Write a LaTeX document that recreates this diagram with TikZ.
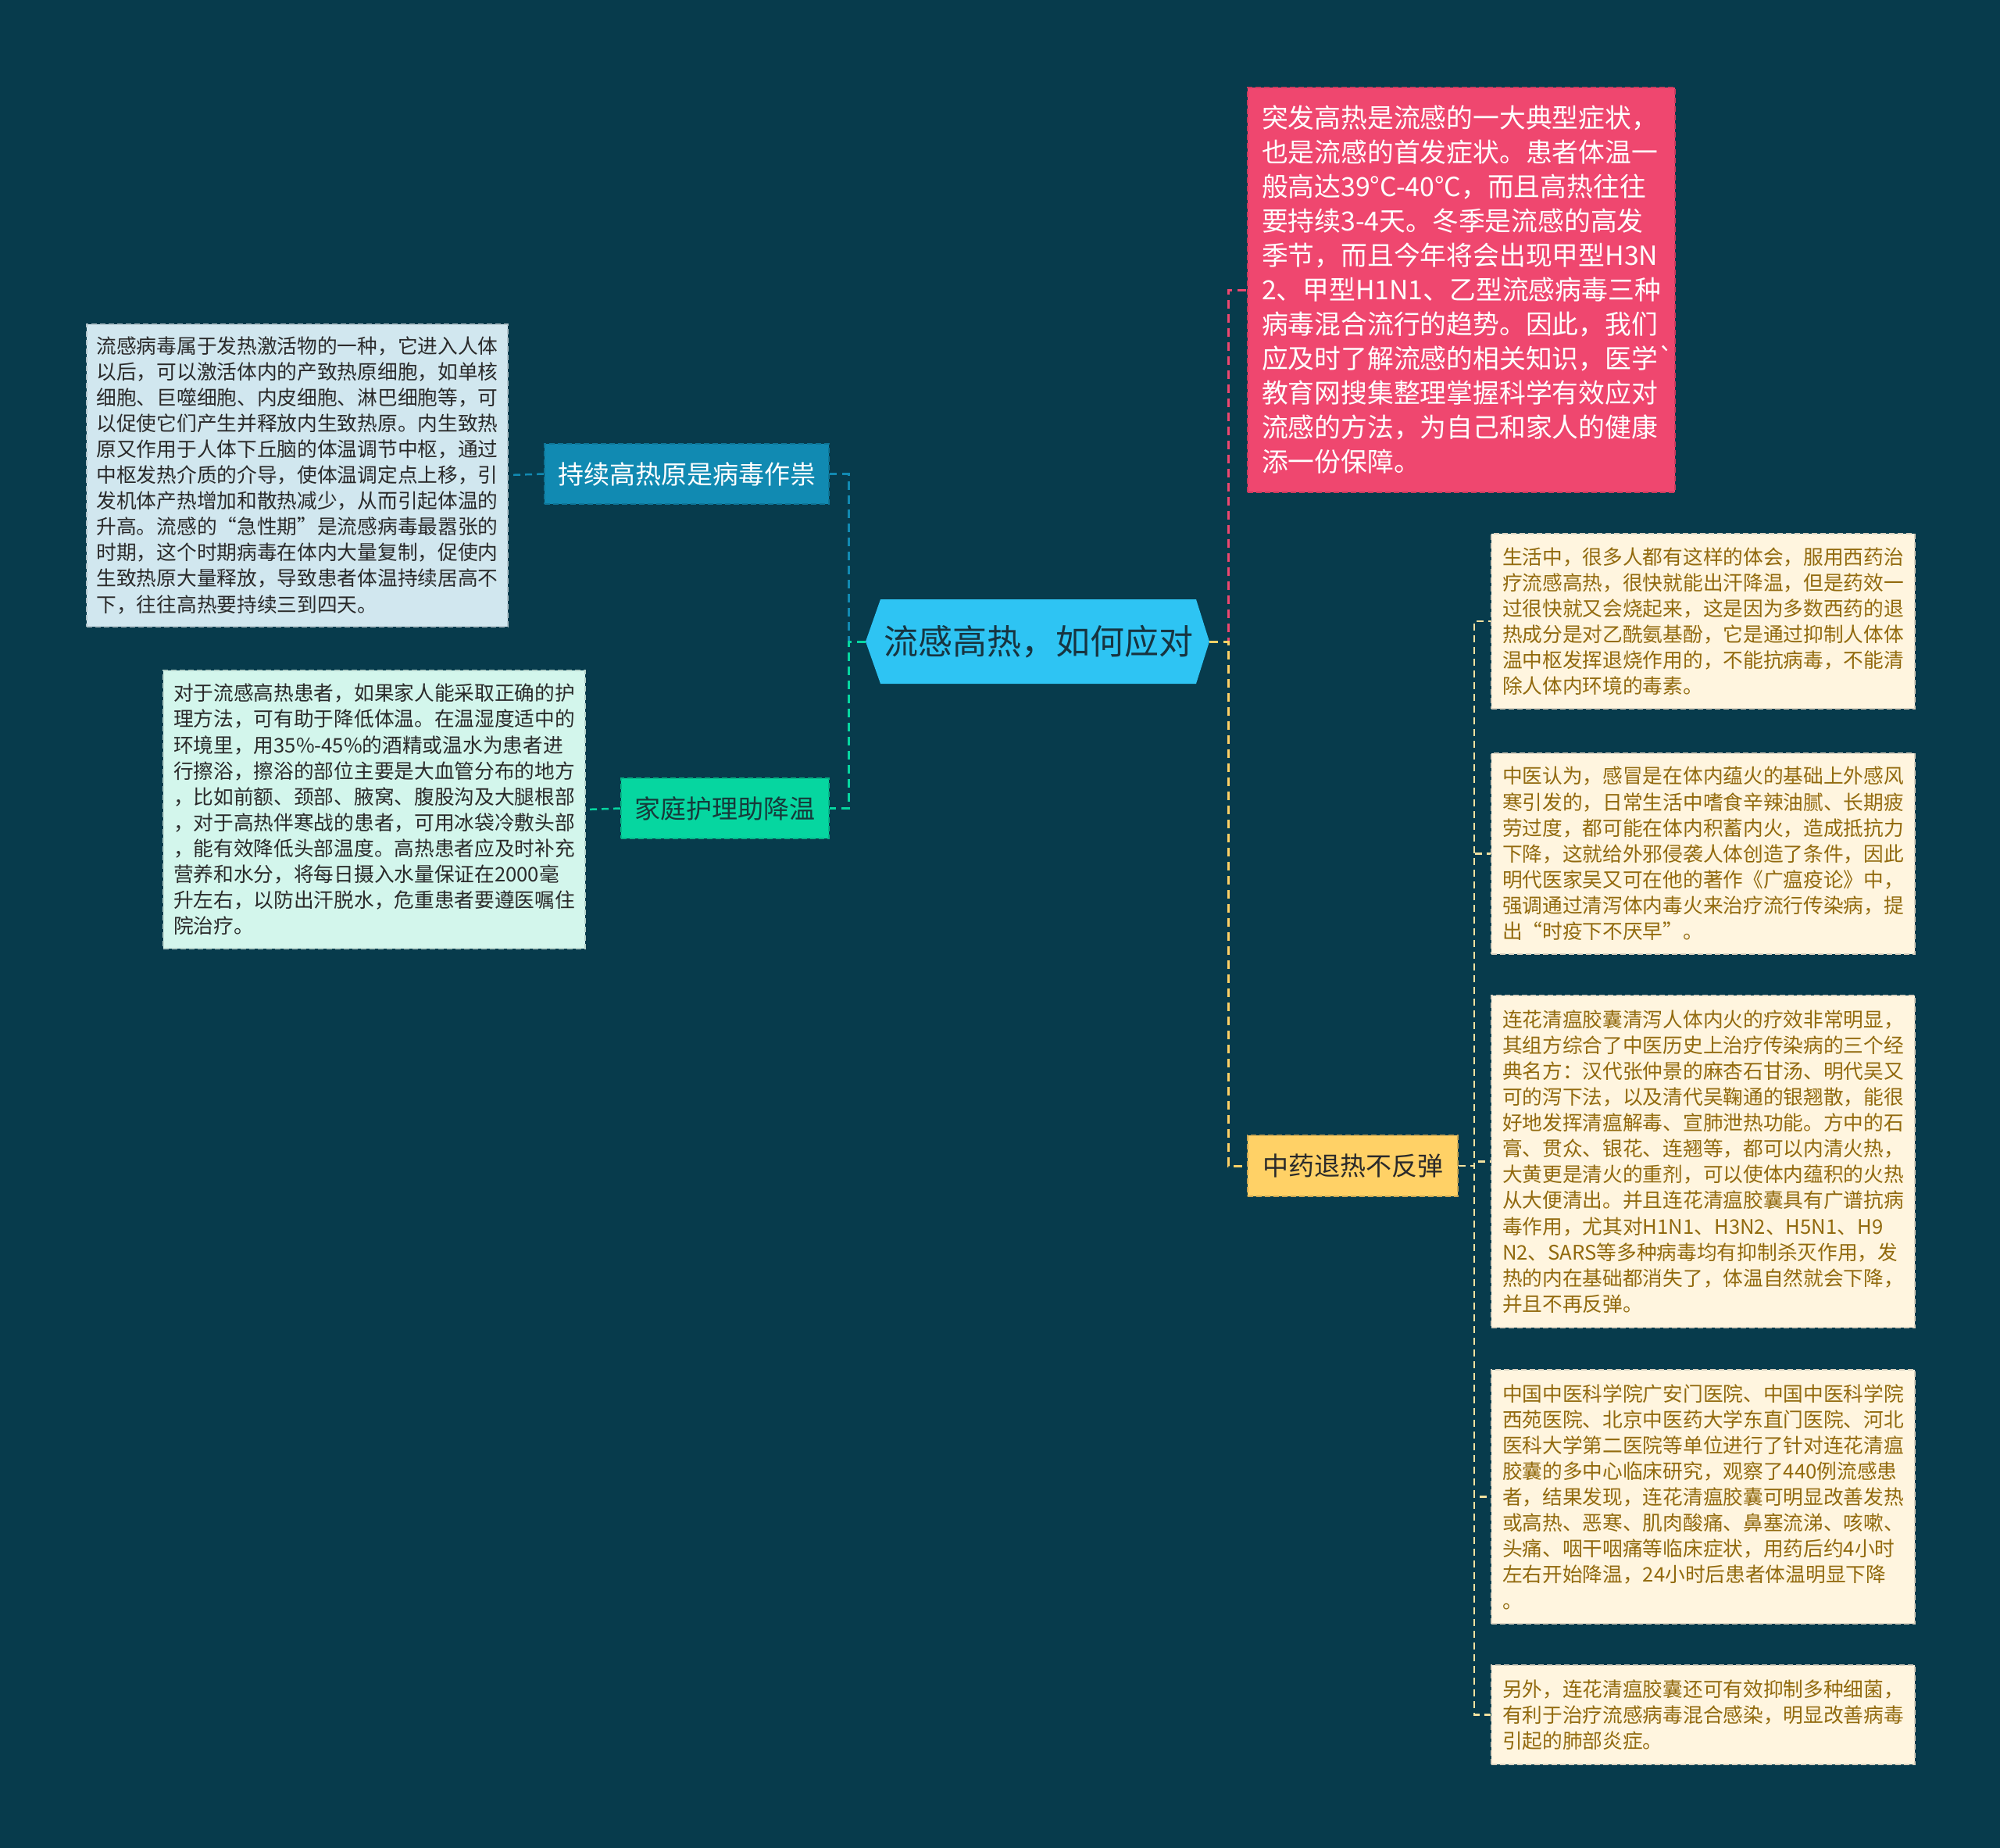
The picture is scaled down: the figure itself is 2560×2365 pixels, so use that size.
\documentclass[tikz,border=0pt]{standalone}
\usepackage{fontspec}
\newfontfamily\cjk{Noto Sans CJK SC}
\definecolor{bgC}{HTML}{073B4C}
\definecolor{blueC}{HTML}{118AB2}
\definecolor{greenC}{HTML}{06D6A0}
\definecolor{pinkC}{HTML}{EF476F}
\definecolor{yellowC}{HTML}{FFD166}
\definecolor{centerC}{HTML}{2EC4F3}
\definecolor{leafBlue}{HTML}{D1E7EF}
\definecolor{leafGreen}{HTML}{D3F6EC}
\definecolor{leafYellow}{HTML}{FFF5DF}
\definecolor{goldText}{HTML}{926A0E}
\definecolor{darkText}{HTML}{2A2A2A}
\definecolor{centerText}{HTML}{173440}
\definecolor{greenText}{HTML}{163A3A}
\definecolor{paleY}{HTML}{F2E2A0}
\begin{document}
\begin{tikzpicture}[x=1pt,y=-1pt,
  conn/.style={line width=3pt, dash pattern=on 11pt off 7pt},
  lconn/.style={line width=2.5pt, dash pattern=on 9pt off 6pt},
  boxline/.style={line width=2pt, dash pattern=on 7pt off 4pt},
  leaf/.style={boxline, inner sep=0pt, align=left, text width=514pt,
    font={\cjk\fontsize{25.7pt}{33.1pt}\selectfont}},
  branch/.style={boxline, inner sep=0pt, align=center,
    font={\cjk\fontsize{33pt}{40pt}\selectfont}}]
\fill[bgC] (0,0) rectangle (2560,2365);
\useasboundingbox (0,0) rectangle (2560,2365);

% centre topic
\fill[centerC] (1108,821) -- (1127,767) -- (1531,767) -- (1548,821) -- (1531,875) -- (1127,875) -- cycle;
\node[font={\cjk\fontsize{44pt}{52pt}\selectfont}, text=centerText, inner sep=0pt] (c) at (1329,821) {流感高热，如何应对};
\coordinate (cL) at (1108,821);
\coordinate (cR) at (1548,821);

% left branches
\node[branch, fill=blueC, draw=blueC!85!black, text=white, minimum width=364pt, minimum height=77pt] (b1) at (879,606.5) {持续高热原是病毒作祟};
\node[branch, fill=greenC, draw=greenC!85!black, text=greenText, minimum width=266pt, minimum height=77pt] (b2) at (928,1034.5) {家庭护理助降温};

\node[leaf, fill=leafBlue, draw=leafBlue!85!black, text=darkText, minimum width=539pt, minimum height=387pt] (l1) at (380.5,608) {流感病毒属于发热激活物的一种，它进入人体\\以后，可以激活体内的产致热原细胞，如单核\\细胞、巨噬细胞、内皮细胞、淋巴细胞等，可\\以促使它们产生并释放内生致热原。内生致热\\原又作用于人体下丘脑的体温调节中枢，通过\\中枢发热介质的介导，使体温调定点上移，引\\发机体产热增加和散热减少，从而引起体温的\\升高。流感的“急性期”是流感病毒最嚣张的\\时期，这个时期病毒在体内大量复制，促使内\\生致热原大量释放，导致患者体温持续居高不\\下，往往高热要持续三到四天。};

\node[leaf, fill=leafGreen, draw=leafGreen!85!black, text=darkText, minimum width=540pt, minimum height=356pt] (l2) at (479,1036) {对于流感高热患者，如果家人能采取正确的护\\理方法，可有助于降低体温。在温湿度适中的\\环境里，用35\%-45\%的酒精或温水为患者进\\行擦浴，擦浴的部位主要是大血管分布的地方\\，比如前额、颈部、腋窝、腹股沟及大腿根部\\，对于高热伴寒战的患者，可用冰袋冷敷头部\\，能有效降低头部温度。高热患者应及时补充\\营养和水分，将每日摄入水量保证在2000毫\\升左右，以防出汗脱水，危重患者要遵医嘱住\\院治疗。};

% right branches
\node[boxline, inner sep=0pt, align=left, text width=511pt, fill=pinkC, draw=pinkC!85!black, text=white, minimum width=547pt, minimum height=518pt,
  font={\cjk\fontsize{33.8pt}{44pt}\selectfont}] (p) at (1870.5,371) {突发高热是流感的一大典型症状，\\也是流感的首发症状。患者体温一\\般高达39°C-40°C，而且高热往往\\要持续3-4天。冬季是流感的高发\\季节，而且今年将会出现甲型H3N\\2、甲型H1N1、乙型流感病毒三种\\病毒混合流行的趋势。因此，我们\\应及时了解流感的相关知识，医学`\\教育网搜集整理掌握科学有效应对\\流感的方法，为自己和家人的健康\\添一份保障。};

\node[branch, fill=yellowC, draw=yellowC!80!black, text=darkText, minimum width=269pt, minimum height=78pt] (y) at (1731.5,1492) {中药退热不反弹};

\node[leaf, fill=leafYellow, draw=leafYellow!85!black, text=goldText, minimum width=542pt, minimum height=224pt] (r1) at (2180,795) {生活中，很多人都有这样的体会，服用西药治\\疗流感高热，很快就能出汗降温，但是药效一\\过很快就又会烧起来，这是因为多数西药的退\\热成分是对乙酰氨基酚，它是通过抑制人体体\\温中枢发挥退烧作用的，不能抗病毒，不能清\\除人体内环境的毒素。};

\node[leaf, fill=leafYellow, draw=leafYellow!85!black, text=goldText, minimum width=542pt, minimum height=257pt] (r2) at (2180,1092.5) {中医认为，感冒是在体内蕴火的基础上外感风\\寒引发的，日常生活中嗜食辛辣油腻、长期疲\\劳过度，都可能在体内积蓄内火，造成抵抗力\\下降，这就给外邪侵袭人体创造了条件，因此\\明代医家吴又可在他的著作《广瘟疫论》中，\\强调通过清泻体内毒火来治疗流行传染病，提\\出“时疫下不厌早”。};

\node[leaf, fill=leafYellow, draw=leafYellow!85!black, text=goldText, minimum width=542pt, minimum height=425pt] (r3) at (2180,1486.5) {连花清瘟胶囊清泻人体内火的疗效非常明显，\\其组方综合了中医历史上治疗传染病的三个经\\典名方：汉代张仲景的麻杏石甘汤、明代吴又\\可的泻下法，以及清代吴鞠通的银翘散，能很\\好地发挥清瘟解毒、宣肺泄热功能。方中的石\\膏、贯众、银花、连翘等，都可以内清火热，\\大黄更是清火的重剂，可以使体内蕴积的火热\\从大便清出。并且连花清瘟胶囊具有广谱抗病\\毒作用，尤其对H1N1、H3N2、H5N1、H9\\N2、SARS等多种病毒均有抑制杀灭作用，发\\热的内在基础都消失了，体温自然就会下降，\\并且不再反弹。};

\node[leaf, fill=leafYellow, draw=leafYellow!85!black, text=goldText, minimum width=542pt, minimum height=325pt] (r4) at (2180,1915.5) {中国中医科学院广安门医院、中国中医科学院\\西苑医院、北京中医药大学东直门医院、河北\\医科大学第二医院等单位进行了针对连花清瘟\\胶囊的多中心临床研究，观察了440例流感患\\者，结果发现，连花清瘟胶囊可明显改善发热\\或高热、恶寒、肌肉酸痛、鼻塞流涕、咳嗽、\\头痛、咽干咽痛等临床症状，用药后约4小时\\左右开始降温，24小时后患者体温明显下降\\。};

\node[leaf, fill=leafYellow, draw=leafYellow!85!black, text=goldText, minimum width=542pt, minimum height=127pt] (r5) at (2180,2194.5) {另外，连花清瘟胶囊还可有效抑制多种细菌，\\有利于治疗流感病毒混合感染，明显改善病毒\\引起的肺部炎症。};

% connectors
\draw[conn, blueC] (cL) -- ++(-22,0) |- (b1.east);
\draw[conn, greenC] (cL) -- ++(-22,0) |- (b2.east);
\draw[lconn, blueC] (b1.west) -- (l1.east);
\draw[lconn, greenC] (b2.west) -- (l2.east);
\draw[conn, pinkC] (cR) -- ++(24,0) |- (p.west);
\draw[conn, yellowC] (cR) -- ++(24,0) |- (y.west);
\foreach \r in {r1,r2,r3,r4,r5}
  \draw[lconn, paleY] (y.east) -- ++(20,0) |- (\r.west);
\end{tikzpicture}
\end{document}
